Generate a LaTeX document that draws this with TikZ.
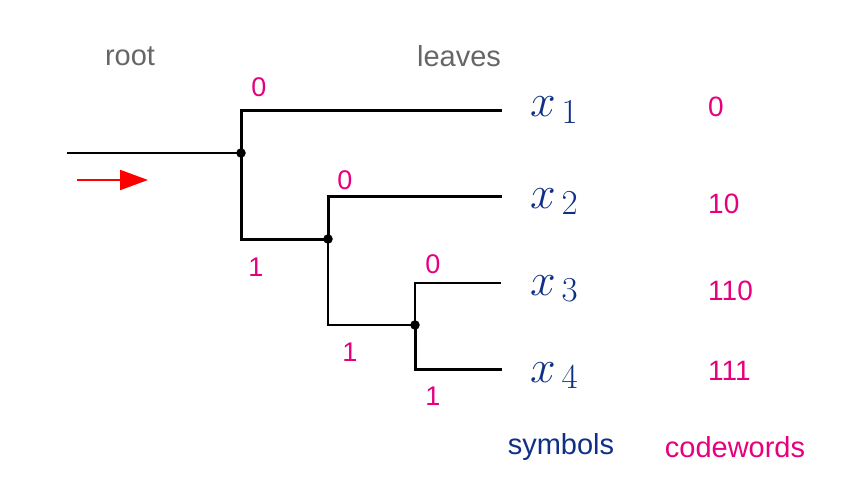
\RequirePackage{fix-cm}
\documentclass[tikz,border=0pt]{standalone}
\usepackage[no-math]{fontspec}
\setmainfont{Liberation Sans}
\usetikzlibrary{arrows.meta}
\DeclareMathSizes{46}{46}{35}{25}
\definecolor{navyc}{RGB}{16,48,135}
\definecolor{pinkc}{RGB}{230,0,126}
\definecolor{grayc}{RGB}{102,102,102}
\tikzset{
  branch/.style={line width=3pt, line cap=rect},
  branchthin/.style={line width=2.2pt, line cap=rect},
  rootline/.style={line width=2pt},
  junction/.style={circle, fill=black, inner sep=0pt, minimum size=9.5pt},
  bit/.style={text=pinkc, font=\fontsize{27}{30}\selectfont, inner sep=0pt},
  sym/.style={text=navyc, font=\fontsize{46}{52}\selectfont, inner sep=0pt, anchor=base west},
  code/.style={text=pinkc, font=\fontsize{28}{32}\selectfont, inner sep=0pt, anchor=base west},
  heading/.style={font=\fontsize{29}{34}\selectfont, inner sep=0pt},
}
\begin{document}
\begin{tikzpicture}[x=1pt, y=-1pt]
\useasboundingbox (0,0) rectangle (849,487);
% coordinates
\coordinate (in) at (67,153);
\coordinate (n1) at (241,153);
\coordinate (n2) at (328,239);
\coordinate (n3) at (415,325);
\coordinate (e1) at (500,110);
\coordinate (e2) at (500,196);
\coordinate (e3) at (500,283);
\coordinate (e4) at (500,369);
% tree
\draw[rootline] (in) -- (n1);
\draw[branch] (n1) |- (e1);
\draw[branch] (n1) |- (n2);
\draw[branch] (n2) |- (e2);
\draw[branchthin] (n2) |- (n3);
\draw[branchthin] (n3) |- (e3);
\draw[branch] (n3) |- (e4);
\node[junction] (j1) at (n1) {};
\node[junction] (j2) at (n2) {};
\node[junction] (j3) at (n3) {};
% arrow
\coordinate (a0) at (77,180);
\coordinate (a1) at (148,180);
\draw[red, line width=2pt, -{Triangle[length=28pt,width=20pt]}] (a0) -- (a1);
% bit labels
\node[bit] (b10) at (259,87) {0};
\node[bit] (b11) at (256,267) {1};
\node[bit] (b20) at (345,180) {0};
\node[bit] (b21) at (350,352) {1};
\node[bit] (b30) at (433,264) {0};
\node[bit] (b31) at (433,396) {1};
% symbols
\node[sym] (x1) at (530,117) {$x_{\mkern3mu 1}$};
\node[sym] (x2) at (530,208) {$x_{\mkern3mu 2}$};
\node[sym] (x3) at (530,295) {$x_{\mkern3mu 3}$};
\node[sym] (x4) at (530,382) {$x_{\mkern3mu 4}$};
% codewords
\node[code] (c1) at (708,117) {0};
\node[code] (c2) at (708,213) {10};
\node[code] (c3) at (708,300) {110};
\node[code] (c4) at (708,380) {111};
% headings
\node[heading, text=grayc] (root) at (130,56) {root};
\node[heading, text=grayc] (leaves) at (459,56) {leaves};
\node[heading, text=navyc] (symh) at (561,447) {symbols};
\node[heading, text=pinkc] (codeh) at (735,447) {codewords};
\end{tikzpicture}
\end{document}
